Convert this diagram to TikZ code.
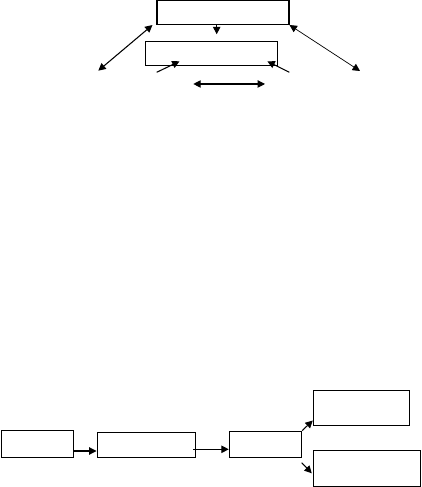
\documentclass[tikz,border=0pt]{standalone}
\usetikzlibrary{arrows.meta, positioning, calc}
\tikzset{
  box/.style  = {rectangle, draw=black, line width=0.6pt, inner sep=0pt,
                 fill=white},
  arr/.style  = {-{Triangle[length=4.2pt, width=4.2pt]}, line width=0.6pt},
  darr/.style = {{Triangle[length=4.2pt, width=4.2pt]}-{Triangle[length=4.2pt, width=4.2pt]},
                 line width=0.6pt},
  thin arr/.style = {-{Triangle[length=4.2pt, width=4.2pt]}, line width=0.4pt}
}
\begin{document}
\begin{tikzpicture}
\useasboundingbox (0,0) rectangle (8.42,9.74);

% ── Upper group ─────────────────────────────────────────────────────────────
\node[box, minimum width=2.64cm,  minimum height=0.48cm] (top) at (4.46, 9.49)  {};
\node[box, minimum width=2.646cm, minimum height=0.48cm] (mid) at (4.224, 8.674) {};

% free ends
\coordinate (lfar)  at (1.966, 8.326);
\coordinate (rfar)  at (7.20,  8.32);
\coordinate (lfoot) at (3.134, 8.294);
\coordinate (rfoot) at (5.786, 8.294);
\coordinate (hl)    at (3.866, 8.06);
\coordinate (hr)    at (5.30,  8.06);

\draw[arr, shorten >=0.13cm] ([xshift=-0.126cm]top.south) -- ([xshift=-0.126cm]top.south |- mid.north);
\draw[darr] ([xshift=-0.08cm]top.south west) -- (lfar);
\draw[darr, line width=0.4pt] (top.south east) -- (rfar);
\draw[arr] (lfoot) -- ([shift={(0.7cm,0.09cm)}]mid.south west);
\draw[arr] (rfoot) -- ([shift={(-0.21cm,0.09cm)}]mid.south east);
\draw[darr] (hl) -- (hr);

% ── Lower chain ─────────────────────────────────────────────────────────────
\node[box, minimum width=1.432cm, minimum height=0.546cm] (a) at (0.75,  0.866) {};
\node[box, minimum width=1.966cm, minimum height=0.492cm] (b) at (2.924, 0.84)  {};
\node[box, minimum width=1.448cm, minimum height=0.526cm] (c) at (5.31,  0.856) {};
\node[box, minimum width=1.92cm,  minimum height=0.70cm]  (d) at (7.226, 1.584) {};
\node[box, minimum width=2.148cm, minimum height=0.728cm] (e) at (7.34,  0.37)  {};

\coordinate (cfoot) at (6.034, 0.486);

\draw[arr] ([yshift=-0.146cm]a.east) -- ([yshift=-0.146cm]a.east -| b.west);
\draw[arr] ([shift={(-0.05cm,-0.086cm)}]b.east) -- ([yshift=-0.086cm]b.east -| c.west);
\draw[arr] (c.north east) -- ([yshift=0.106cm]d.south west);
\draw[arr] (cfoot) -- ([shift={(-0.02cm,-0.096cm)}]e.west);

\end{tikzpicture}
\end{document}
